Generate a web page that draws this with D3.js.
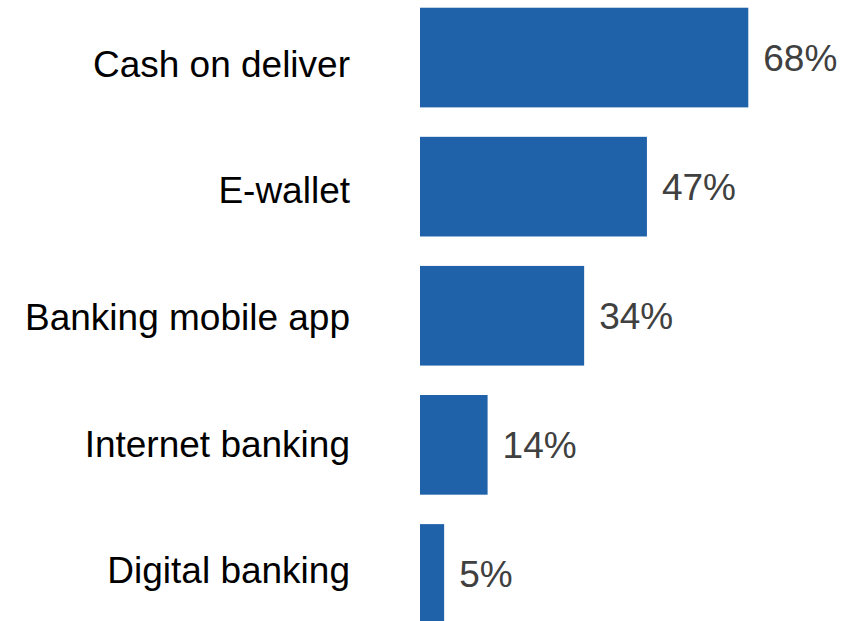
<!DOCTYPE html>
<html>
<head>
<meta charset="utf-8">
<script src="https://cdn.jsdelivr.net/npm/d3@7"></script>
<style>
  html, body { margin: 0; padding: 0; background: #fff; overflow: hidden; }
  svg { display: block; }
</style>
</head>
<body>
<svg id="chart" width="859" height="621"></svg>
<script>
// Payment methods and share of respondents (%)
const categories = ["Cash on deliver", "E-wallet", "Banking mobile app", "Internet banking", "Digital banking"];
const values = [68, 47, 34, 14, 5];

const svg = d3.select("#chart");
const font = "Liberation Sans, Arial, sans-serif";
const fontSize = 37;

const x = d3.scaleLinear().domain([0, 68]).range([420, 748.3]);

// Bar rows
const y = d3.scaleBand()
  .domain(categories)
  .range([-7, 638.5])
  .paddingInner(0.228)
  .paddingOuter(0.114);

// Category label rows (slightly tighter spacing than the bars)
const yLabel = d3.scalePoint()
  .domain(categories)
  .range([63.75, 570.35]);

svg.selectAll("rect.bar")
  .data(categories)
  .join("rect")
  .attr("class", "bar")
  .attr("x", x(0))
  .attr("y", d => y(d))
  .attr("width", (d, i) => x(values[i]) - x(0))
  .attr("height", y.bandwidth())
  .attr("fill", "#1f62aa");

// Category labels, right-aligned against the bars
svg.selectAll("text.cat")
  .data(categories)
  .join("text")
  .attr("class", "cat")
  .attr("x", 350)
  .attr("y", d => yLabel(d))
  .attr("dy", "0.35em")
  .attr("text-anchor", "end")
  .attr("font-family", font)
  .attr("font-size", fontSize)
  .attr("fill", "#000")
  .text(d => d);

// Value labels at the end of each bar
svg.selectAll("text.val")
  .data(categories)
  .join("text")
  .attr("class", "val")
  .attr("x", (d, i) => x(values[i]) + 15)
  .attr("y", d => y(d) + y.bandwidth() / 2)
  .attr("dy", "0.35em")
  .attr("font-family", font)
  .attr("font-size", fontSize)
  .attr("fill", "#404040")
  .text((d, i) => values[i] + "%");
</script>
</body>
</html>
